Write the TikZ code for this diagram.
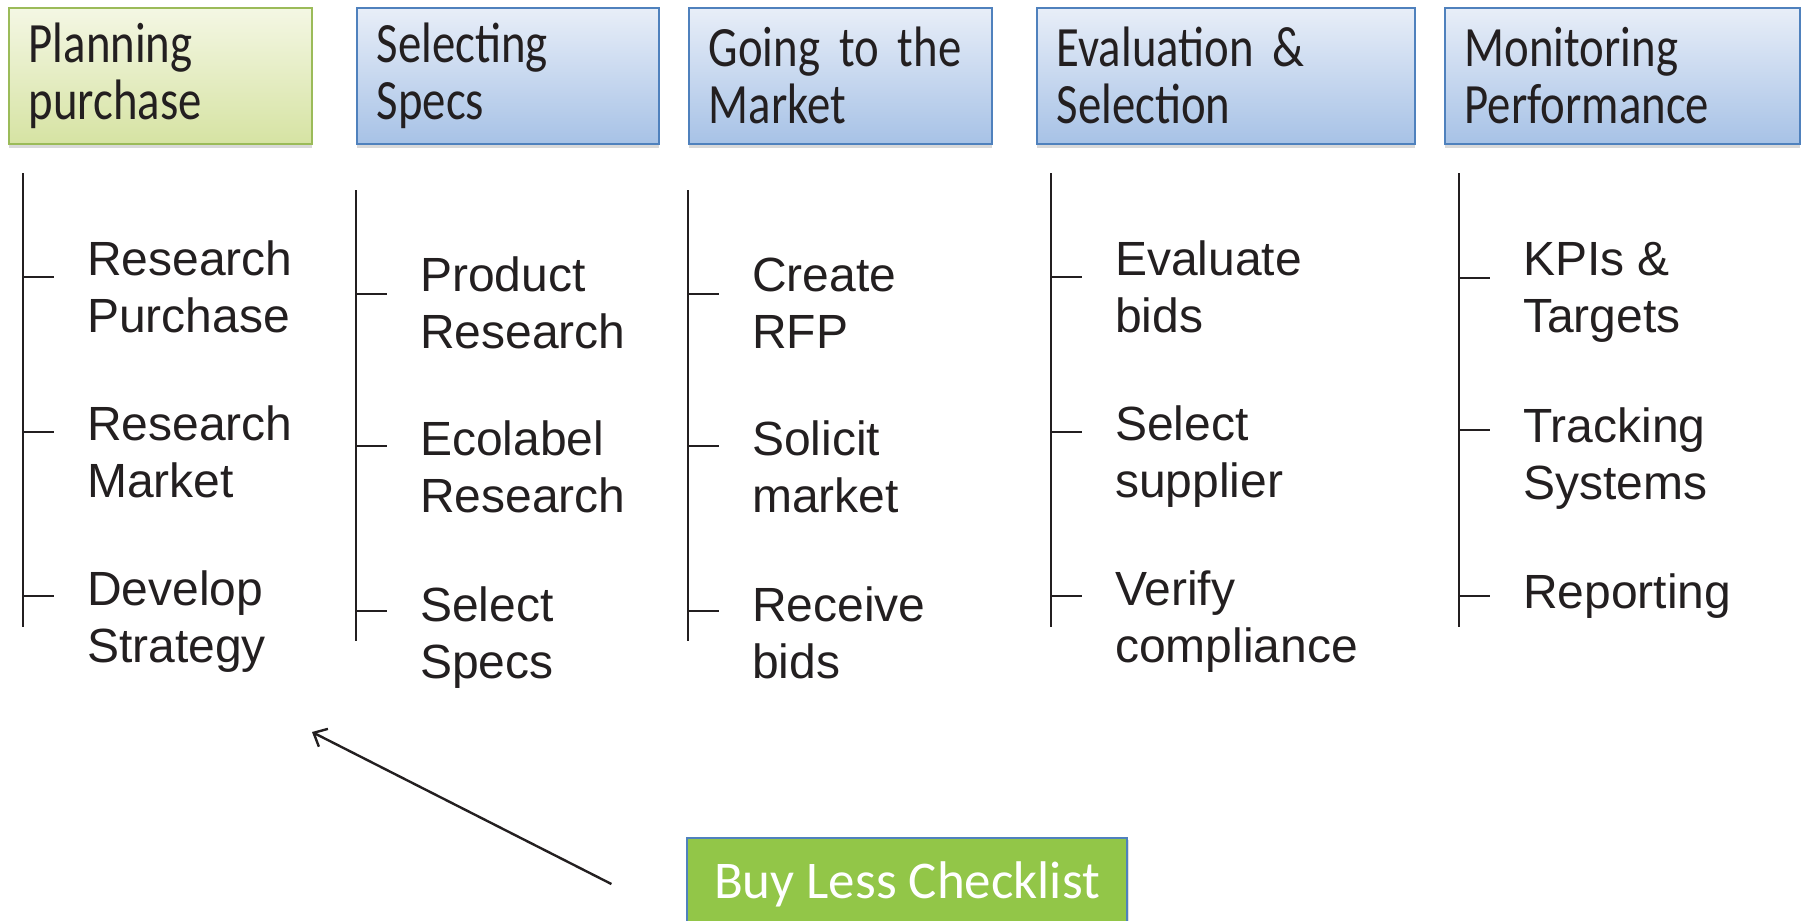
\documentclass[tikz,border=0pt]{standalone}
\usepackage{fontspec}
\setmainfont{Liberation Sans}
\newfontfamily\headfont[FakeStretch=0.82]{Carlito}
\newfontfamily\labelfont{Carlito}
\newcommand\headtype{\headfont\fontsize{57}{57}\selectfont\spaceskip=7pt\relax}
\usetikzlibrary{arrows.meta}
\usetikzlibrary{shadows}
\definecolor{green1}{RGB}{155, 187, 89}
\definecolor{green2}{RGB}{244, 247, 228}
\definecolor{green3}{RGB}{214, 227, 163}
\definecolor{blue1}{RGB}{79, 129, 189}
\definecolor{blue2}{RGB}{232, 238, 248}
\definecolor{blue3}{RGB}{167, 194, 230}
\definecolor{lime1}{RGB}{146, 198, 72}
\definecolor{ink1}{RGB}{35, 31, 32}

\tikzset{
  phase/.style={draw=blue1, line width=1.5pt, top color=blue2, bottom color=blue3,
    anchor=north west, minimum height=136pt, inner xsep=20pt, inner ysep=0pt,
    align=left, text=ink1, font=\headtype,
    drop shadow={opacity=0.3, shadow xshift=0pt, shadow yshift=-4pt}},
  firstphase/.style={phase, draw=green1, top color=green2, bottom color=green3},
  task/.style={anchor=base west, inner sep=0pt, align=left, text=ink1,
    font=\fontsize{48}{57}\selectfont},
  stem/.style={draw=ink1, line width=1.6pt},
  pointer/.style={draw=ink1, line width=2.4pt, -{Straight Barb[length=11pt,width=20pt]}}
}

\begin{document}
\begin{tikzpicture}[x=1pt, y=-1pt]
  \clip (0,0) rectangle (1805,921);

  % phase headers
  \node[firstphase, text width=263pt] (h1) at (8,7) {Planning\\purchase};
  \node[phase, text width=262pt] (h2) at (356,7) {Selecting\\Specs};
  \node[phase, text width=263pt] (h3) at (688,7) {Going to the\\Market};
  \node[phase, text width=338pt] (h4) at (1036,7) {Evaluation \&\\Selection};
  \node[phase, text width=315pt] (h5) at (1444,7) {Monitoring\\Performance};

  % stems and ticks
  \foreach \i/\x/\t/\b in {1/23/173/627, 2/356/190/641, 3/688/190/641, 4/1051/173/627, 5/1459/173/627}{
    \coordinate (top\i) at (\x,\t);
    \coordinate (bot\i) at (\x,\b);
    \draw[stem] (top\i) -- (bot\i);
  }
  \foreach \x/\y in {23/277, 23/432, 23/596, 356/294, 356/446, 356/611,
                     688/294, 688/446, 688/611, 1051/277, 1051/432, 1051/596,
                     1459/278, 1459/430, 1459/596}
    \draw[stem] (\x,\y) -- ++(31,0);

  % tasks (base = last line)
  \node[task] (a1) at (87,332) {Research\\Purchase};
  \node[task] (a2) at (87,497) {Research\\Market};
  \node[task] (a3) at (87,662) {Develop\\Strategy};

  \node[task] (b1) at (420,348) {Product\\Research};
  \node[task] (b2) at (420,512) {Ecolabel\\Research};
  \node[task] (b3) at (420,678) {Select\\Specs};

  \node[task] (c1) at (752,348) {Create\\RFP};
  \node[task] (c2) at (752,512) {Solicit\\market};
  \node[task] (c3) at (752,678) {Receive\\bids};

  \node[task] (d1) at (1115,332) {Evaluate\\bids};
  \node[task] (d2) at (1115,497) {Select\\supplier};
  \node[task] (d3) at (1115,662) {Verify\\compliance};

  \node[task] (e1) at (1523,332) {KPIs \&\\Targets};
  \node[task] (e2) at (1523,499) {Tracking\\Systems};
  \node[task] (e3) at (1523,608) {Reporting};

  % checklist
  \node[draw=blue1, line width=1.2pt, fill=lime1, text=white, minimum width=440pt,
        minimum height=92pt, font=\labelfont\fontsize{53}{60}\selectfont,
        drop shadow={opacity=0.25, shadow xshift=2pt, shadow yshift=-2pt}]
        (chk) at (907,884) {Buy Less Checklist};
  \coordinate (tail) at ([xshift=-75pt]chk.west);
  \coordinate (head) at (312,732);
  \draw[pointer] (tail) -- (head);
\end{tikzpicture}
\end{document}
